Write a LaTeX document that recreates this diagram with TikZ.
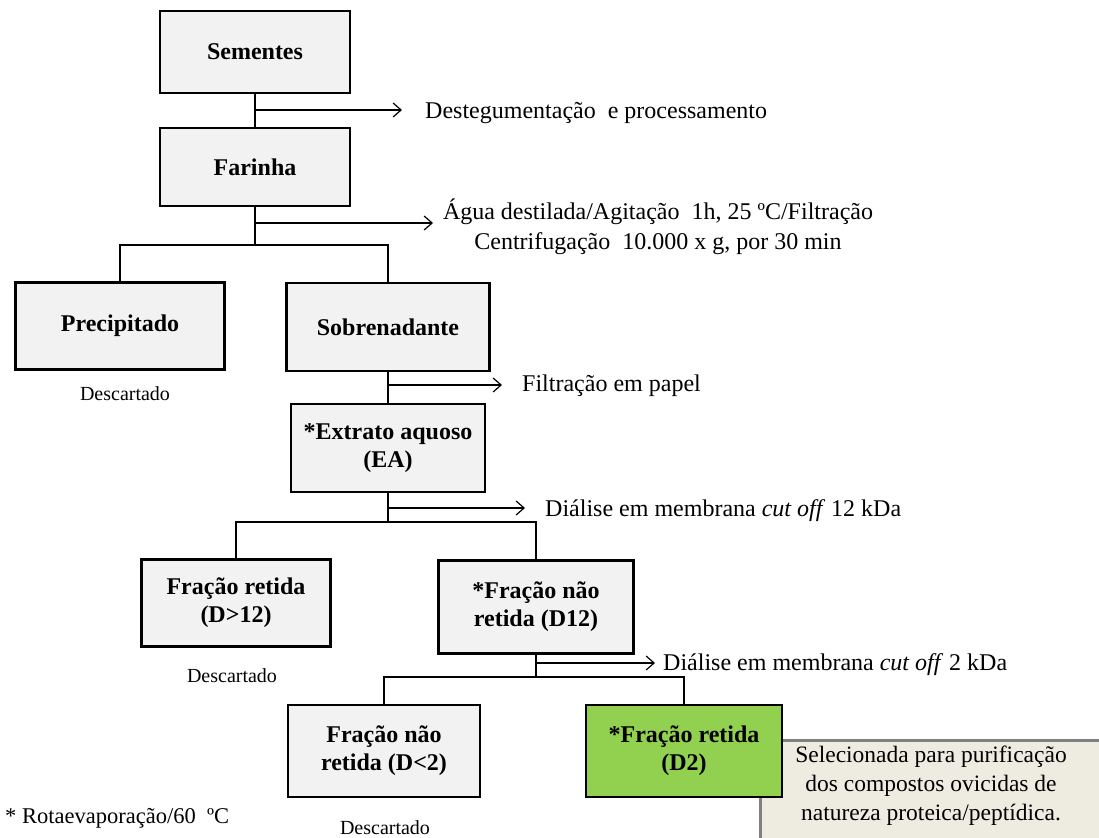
\documentclass[tikz,border=0pt]{standalone}
\usepackage{fontspec}
\setmainfont{Liberation Serif}
\usetikzlibrary{arrows.meta}
\definecolor{boxgray}{HTML}{F2F2F2}
\definecolor{dgreen}{HTML}{92D050}
\definecolor{notefill}{HTML}{EEECE1}
\definecolor{noteline}{HTML}{808080}
\begin{document}
\begin{tikzpicture}[x=1pt,y=-1pt,
  proc/.style={draw,line width=2.4pt,fill=boxgray,align=center,font=\fontsize{24}{28}\selectfont\bfseries,inner sep=0pt},
  conn/.style={line width=1.2pt},
  sidearrow/.style={conn,-{Straight Barb[length=8pt,width=14pt,line width=1.2pt]}},
  ann/.style={font=\fontsize{24}{30}\selectfont,anchor=west,inner sep=0pt},
  disc/.style={font=\fontsize{20}{24}\selectfont,inner sep=0pt}]
\useasboundingbox (0,0) rectangle (1099,837);
\fill[white] (0,0) rectangle (1099,837);

% boxes
\node[proc,minimum width=190pt,minimum height=82pt] (sem) at (255,52) {Sementes};
\node[proc,minimum width=190pt,minimum height=78pt] (far) at (255,167) {Farinha};
\node[proc,minimum width=209pt,minimum height=87pt] (pre) at (120,326) {Precipitado};
\node[proc,minimum width=203pt,minimum height=88pt] (sob) at (388,327) {Sobrenadante};
\node[proc,minimum width=194pt,minimum height=88pt] (ea) at (388,448) {*Extrato aquoso\\(EA)};
\node[proc,minimum width=189pt,minimum height=87pt] (dr) at (236,603) {Fração retida\\(D>12)};
\node[proc,minimum width=195pt,minimum height=93pt] (dn) at (536,607) {*Fração não\\retida (D12)};
\node[proc,minimum width=192pt,minimum height=92pt] (d2n) at (384,751) {Fração não\\retida (D<2)};

% note box
\fill[notefill] (760,740) rectangle (1110,850);
\draw[noteline,line width=3pt] (760,850) -- (760,740) -- (1110,740);
\node[font=\fontsize{23.5}{29}\selectfont,align=center,inner sep=0pt] (nt) at (931,786)
  {Selecionada para purificação\\dos compostos ovicidas de\\natureza proteica/peptídica.};

\node[proc,fill=dgreen,minimum width=196pt,minimum height=92pt] (d2r) at (684,751) {*Fração retida\\(D2)};

% main connectors
\draw[conn] (sem.south) -- (far.north);
\coordinate (j1) at (255,245);
\draw[conn] (far.south) -- (j1);
\draw[conn] (pre.north) |- (j1) -| (sob.north);
\draw[conn] (sob.south) -- (ea.north);
\coordinate (j2) at (388,522);
\draw[conn] (ea.south) -- (j2);
\draw[conn] (dr.north) |- (j2) -| (dn.north);
\coordinate (j3) at (536,677);
\draw[conn] (dn.south) -- (j3);
\draw[conn] (d2n.north) |- (j3) -| (d2r.north);

% side arrows
\coordinate (b1) at (255,110); \coordinate (e1) at (402,110);
\draw[sidearrow] (b1) -- (e1);
\node[ann] (t1) at (425,113) {Destegumentação\ \ e processamento};

\coordinate (b2) at (255,223); \coordinate (e2) at (433,223);
\draw[sidearrow] (b2) -- (e2);
\node[ann,anchor=center,align=center] (t2) at (658,227) {Água destilada/Agitação\ \ 1h, 25 ºC/Filtração\\Centrifugação\ \ 10.000 x g, por 30 min};

\coordinate (b3) at (388,385); \coordinate (e3) at (502,385);
\draw[sidearrow] (b3) -- (e3);
\node[ann] (t3) at (522,386) {Filtração em papel};

\coordinate (b4) at (388,508); \coordinate (e4) at (525,508);
\draw[sidearrow] (b4) -- (e4);
\node[ann] (t4) at (545,511) {Diálise em membrana \textit{cut off} 12 kDa};

\coordinate (b5) at (536,663); \coordinate (e5) at (655,663);
\draw[sidearrow] (b5) -- (e5);
\node[ann] (t5) at (663,665) {Diálise em membrana \textit{cut off} 2 kDa};

% discarded labels
\node[disc] (x1) at (125,394) {Descartado};
\node[disc] (x2) at (232,676) {Descartado};
\node[disc] (x3) at (385,828) {Descartado};

\node[font=\fontsize{22.5}{26}\selectfont,anchor=west,inner sep=0pt] (rot) at (5,818) {* Rotaevaporação/60\ \ ºC};
\end{tikzpicture}
\end{document}
